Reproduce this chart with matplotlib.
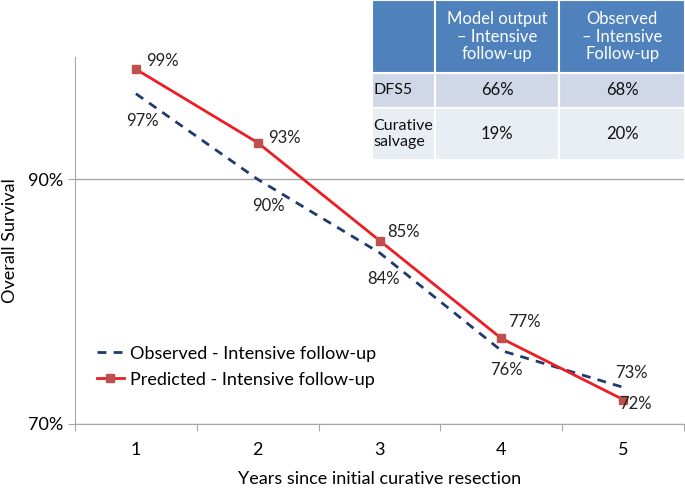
import matplotlib.pyplot as plt
from matplotlib.ticker import FuncFormatter, FixedLocator

plt.rcParams['font.family'] = ['Lato', 'DejaVu Sans']

years = [1, 2, 3, 4, 5]
observed = [0.97, 0.90, 0.84, 0.76, 0.73]
predicted = [0.99, 0.93, 0.85, 0.77, 0.72]

table_cols = ['', 'Model output\n– Intensive\nfollow-up', 'Observed\n– Intensive\nFollow-up']
table_rows = [['DFS5', '66%', '68%'],
              ['Curative\nsalvage', '19%', '20%']]

# label offsets in points (dx, dy)
obs_offsets = [(5, -20), (8, -19), (3, -19), (4, -14), (6, 10)]
pred_offsets = [(19, 6), (19, 3), (17, 6), (17, 12), (9, -3)]

fig = plt.figure(figsize=(6.85, 4.88), dpi=100)
ax = fig.add_axes([75 / 685, 1 - 424 / 488, 609 / 685, 367 / 488])

ax.plot(years, observed, color='#1F3A6E', lw=2, dashes=(3.2, 2.6),
        label='Observed - Intensive follow-up')
ax.plot(years, predicted, color='#EE1C24', lw=2, marker='s', markersize=6,
        markerfacecolor='#C0504D', markeredgecolor='#C0504D',
        label='Predicted - Intensive follow-up')

for x, y, (dx, dy) in zip(years, observed, obs_offsets):
    ax.annotate(f'{y * 100:.0f}%', (x, y), xytext=(dx, dy), textcoords='offset points',
                ha='center', va='center', fontsize=12, color='#222222')
for x, y, (dx, dy) in zip(years, predicted, pred_offsets):
    ax.annotate(f'{y * 100:.0f}%', (x, y), xytext=(dx, dy), textcoords='offset points',
                ha='center', va='center', fontsize=12, color='#222222')

ax.set_xlim(0.5, 5.5)
ax.set_ylim(0.70, 1.00)
ax.yaxis.set_major_locator(FixedLocator([0.70, 0.90]))
ax.yaxis.set_major_formatter(FuncFormatter(lambda v, p: f'{v * 100:.0f}%'))
ax.grid(axis='y', color='#A6A6A6', lw=1)
ax.set_axisbelow(True)

ax.xaxis.set_major_locator(FixedLocator([0.5, 1.5, 2.5, 3.5, 4.5, 5.5]))
ax.xaxis.set_major_formatter(FuncFormatter(lambda v, p: ''))
ax.xaxis.set_minor_locator(FixedLocator(years))
ax.xaxis.set_minor_formatter(FuncFormatter(lambda v, p: f'{v:.0f}'))
ax.tick_params(axis='x', which='minor', length=0, labelsize=13, pad=13)
ax.tick_params(axis='x', which='major', length=5, color='#A6A6A6')
ax.tick_params(axis='y', length=5, color='#A6A6A6', labelsize=13)

for s in ['top', 'right']:
    ax.spines[s].set_visible(False)
for s in ['left', 'bottom']:
    ax.spines[s].set_color('#A6A6A6')

ax.set_xlabel('Years since initial curative resection', fontsize=13, labelpad=9)
ax.set_ylabel('Overall Survival', fontsize=13, labelpad=7)

ax.legend(loc='lower left', bbox_to_anchor=(0.01, 0.055), frameon=False, fontsize=13,
          handlelength=1.45, handletextpad=0.35, labelspacing=0.55)

# summary table in the top right corner
tax = fig.add_axes([372 / 685, 1 - 160 / 488, 313 / 685, 160 / 488])
tax.axis('off')
tbl = tax.table(cellText=table_rows, colLabels=table_cols, bbox=[0, 0, 1, 1],
                colWidths=[63, 123, 125], cellLoc='center')
tbl.auto_set_font_size(False)
heights = [73, 35, 52]
for (r, c), cell in tbl.get_celld().items():
    cell.set_edgecolor('white')
    cell.set_linewidth(1.5)
    cell.set_height(heights[r])
    cell.get_text().set_fontsize(12)
    if r == 0:
        cell.set_facecolor('#4F81BD')
        cell.get_text().set_color('white')
    else:
        cell.set_facecolor('#D0D8E8' if r == 1 else '#E9EDF4')
        cell.get_text().set_color('#111111')
        if c == 0:
            cell.get_text().set_ha('left')
            cell.get_text().set_fontsize(11.5)
            cell.PAD = 0.02
    cell.get_text().set_linespacing(1.1)

fig.savefig('out.png', dpi=100)
